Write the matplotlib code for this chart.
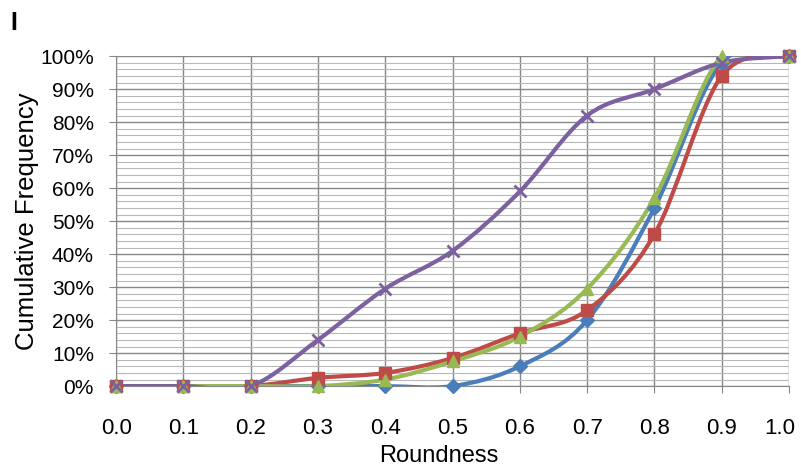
import matplotlib.pyplot as plt
import numpy as np
from matplotlib.path import Path
from matplotlib.patches import PathPatch
from matplotlib.ticker import MultipleLocator, PercentFormatter
from matplotlib.transforms import ScaledTranslation

plt.rcParams['font.family'] = ['Liberation Sans', 'DejaVu Sans']

# Data
roundness = [0.0, 0.1, 0.2, 0.3, 0.4, 0.5, 0.6, 0.7, 0.8, 0.9, 1.0]
blue_vals = [0, 0, 0, 0, 0, 0, 6, 20, 54, 98, 100]
red_vals = [0, 0, 0, 2.5, 4, 8.5, 16, 23, 46, 94, 100]
green_vals = [0, 0, 0, 0, 2, 7.5, 15, 29.5, 57, 100, 100]
purple_vals = [0, 0, 0, 14, 29.5, 41, 59, 82, 90, 98, 100]

series = [
    (blue_vals, '#4a7ebb', 'D', 7),
    (red_vals, '#be4b48', 's', 8),
    (green_vals, '#98b954', '^', 9),
    (purple_vals, '#7d60a0', 'x', 9),
]


def smooth_path(x, y, t=1 / 6):
    # Excel style smoothed line: cubic bezier through every point
    x = np.asarray(x, float)
    y = np.asarray(y, float)
    verts = [(x[0], y[0])]
    codes = [Path.MOVETO]
    n = len(x)
    for i in range(n - 1):
        p0 = i - 1 if i > 0 else i
        p3 = i + 2 if i + 2 < n else i + 1
        c1 = (x[i] + (x[i + 1] - x[p0]) * t, y[i] + (y[i + 1] - y[p0]) * t)
        c2 = (x[i + 1] - (x[p3] - x[i]) * t, y[i + 1] - (y[p3] - y[i]) * t)
        verts += [c1, c2, (x[i + 1], y[i + 1])]
        codes += [Path.CURVE4] * 3
    return Path(verts, codes)


fig = plt.figure(figsize=(8.01, 4.68), dpi=100)
ax = fig.add_axes([0.145, 0.175, 0.84, 0.705])

for vals, color, marker, ms in series:
    ax.add_patch(PathPatch(smooth_path(roundness, vals), fill=False,
                           edgecolor=color, lw=3, zorder=3, capstyle='round'))
    ax.plot(roundness, vals, linestyle='none', marker=marker, color=color,
            markersize=ms, markeredgewidth=2 if marker == 'x' else 1, zorder=4,
            clip_on=False)

ax.set_xlim(0, 1.0)
ax.set_ylim(0, 100)
ax.xaxis.set_major_locator(MultipleLocator(0.1))
ax.yaxis.set_major_locator(MultipleLocator(10))
ax.yaxis.set_minor_locator(MultipleLocator(2))
ax.yaxis.set_major_formatter(PercentFormatter(decimals=0))
ax.set_xticks(roundness)
ax.set_xticklabels([f'{v:.1f}' for v in roundness])

ax.grid(which='major', axis='both', color='#878787', lw=1)
ax.grid(which='minor', axis='y', color='#b8b8b8', lw=0.8)
ax.set_axisbelow(True)
for s in ['top', 'right']:
    ax.spines[s].set_visible(False)
for s in ['left', 'bottom']:
    ax.spines[s].set_color('#878787')
ax.tick_params(which='major', length=5, color='#878787', labelsize=15)
ax.tick_params(axis='x', pad=18, labelsize=16)
ax.tick_params(axis='y', pad=11)
ax.tick_params(which='minor', length=0)

# last x label nudged left so it stays inside the figure
last = ax.get_xticklabels()[-1]
last.set_transform(last.get_transform() + ScaledTranslation(-9 / 100, 0, fig.dpi_scale_trans))

ax.set_xlabel('Roundness', fontsize=17)
ax.xaxis.set_label_coords(0.48, -0.178)
ax.set_ylabel('Cumulative Frequency', fontsize=18.5, labelpad=1)
fig.text(0.013, 0.935, 'I', fontsize=18, fontweight='bold')

fig.savefig('out.png')
